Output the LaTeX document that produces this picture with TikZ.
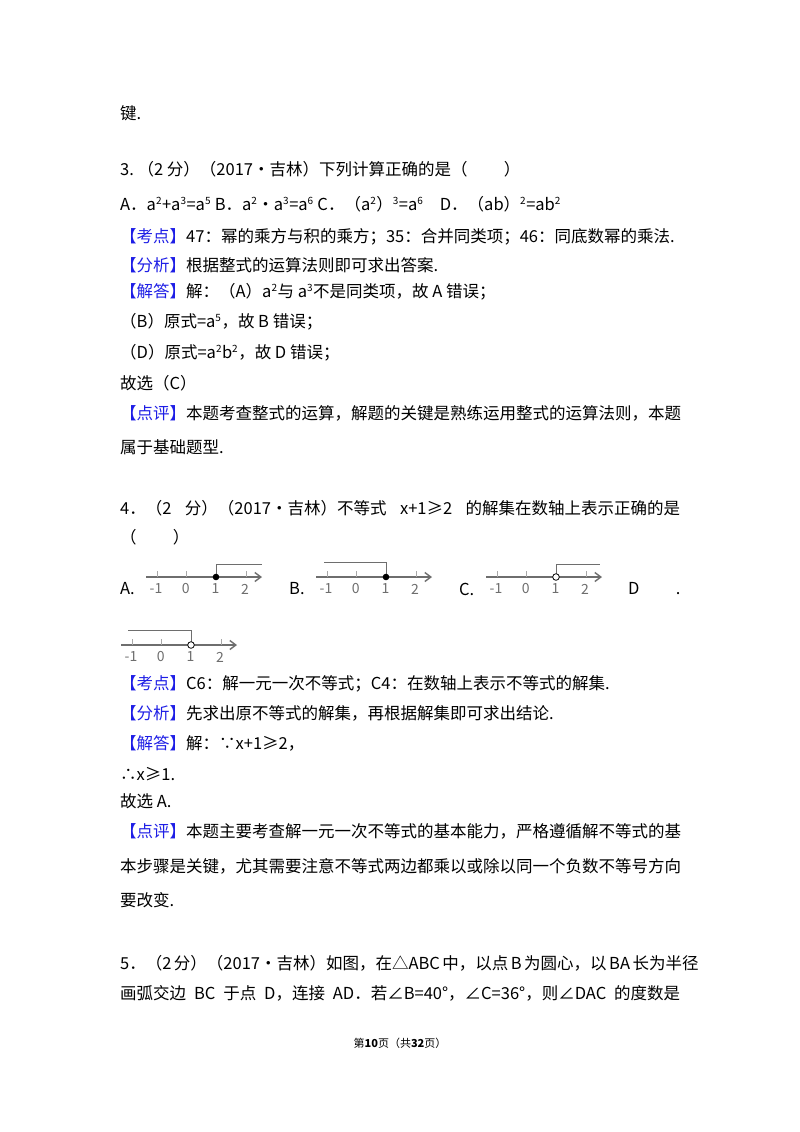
\documentclass[tikz,border=0pt]{standalone}
\usepackage{fontspec}
\usetikzlibrary{arrows.meta}
\setmainfont{Noto Sans CJK SC}
\XeTeXlinebreaklocale "zh"
\XeTeXlinebreakskip=0pt plus 3pt
\definecolor{kblue}{RGB}{30,30,230}
\definecolor{nlgray}{RGB}{110,110,110}
\newcommand{\spx}[1]{\textsuperscript{\fontsize{10}{10}\selectfont #1}}
\newcommand{\kb}[1]{{\color{kblue}【#1】}}
\newcommand{\jl}[1]{\hbox to 560pt{#1}}
\begin{document}
\begin{tikzpicture}[x=1pt,y=-1pt,
  t/.style={anchor=west,inner sep=0pt,font=\fontsize{16.5}{19}\selectfont},
  nl/.style={font=\fontsize{14}{16}\selectfont,inner sep=0pt,text=nlgray},
  ax/.style={nlgray,line width=1.4pt,-{Straight Barb[length=6pt,width=9pt]}},
  br/.style={nlgray,line width=1pt}]
\useasboundingbox[fill=white] (0,0) rectangle (800,1132);
\node[t] (l0) at (120,113) {键.};
\node[t] (l1) at (120,169) {3.\ （2 分）（2017•吉林）下列计算正确的是（\hspace{2.2em}）};
\node[t] (l2) at (120,204) {A．a\spx{2}+a\spx{3}=a\spx{5} B．a\spx{2}•a\spx{3}=a\spx{6} C．（a\spx{2}）\spx{3}=a\spx{6}\quad D．（ab）\spx{2}=ab\spx{2}};
\node[t] (l3) at (120,237) {\kb{考点}47：幂的乘方与积的乘方；35：合并同类项；46：同底数幂的乘法.};
\node[t] (l4) at (120,265) {\kb{分析}根据整式的运算法则即可求出答案.};
\node[t] (l5) at (120,292) {\kb{解答}解：（A）a\spx{2}与 a\spx{3}不是同类项，故 A 错误；};
\node[t] (l6) at (120,322) {（B）原式=a\spx{5}，故 B 错误；};
\node[t] (l7) at (120,353) {（D）原式=a\spx{2}b\spx{2}，故 D 错误；};
\node[t] (l8) at (120,383) {故选（C）};
\node[t] (l9) at (120,413) {\jl{\kb{点评}本题考查整式的运算，解题的关键是熟练运用整式的运算法则，本题}};
\node[t] (l10) at (120,447) {属于基础题型.};
\node[t] (l11) at (120,508) {\jl{4．（2 分）（2017•吉林）不等式 x+1≥2 的解集在数轴上表示正确的是}};
\node[t] (l12) at (120,537) {（\hspace{2.2em}）};
% number lines
\node[t] (la) at (120,589) {A.};
\node[t] (lb) at (289,589) {B.};
\node[t] (lc) at (459,589) {C.};
\node[t] (ld) at (628,589) {D\hspace{2.2em}.};
\foreach \nm/\ox/\oy in {na/157/577, nb/327/577, nc/497/577, nd/132/645}{
  \coordinate (\nm s) at (\ox-11,\oy);
  \coordinate (\nm e) at (\ox+105,\oy);
  \draw[ax] (\nm s) -- (\nm e);
  \foreach \k/\lab in {0/-1,1/0,2/1,3/2}{
    \draw[nlgray!60,line width=0.8pt] (\ox+29.7*\k,\oy) -- (\ox+29.7*\k,\oy-6);
    \node[nl] at (\ox+29.7*\k-1,\oy+12) {\lab};
  }
}
% A: closed, right
\coordinate (pa) at (216,577); \coordinate (pat) at (216,564); \coordinate (pae) at (262,564);
\draw[br] (pa) -- (pat) -- (pae);
\fill[black] (pa) circle (3.3pt);
% B: closed, left
\coordinate (pb) at (386,577); \coordinate (pbt) at (386,562); \coordinate (pbe) at (324,562);
\draw[br] (pb) -- (pbt) -- (pbe);
\fill[black] (pb) circle (3.3pt);
% C: open, right
\coordinate (pc) at (556,577); \coordinate (pct) at (556,564); \coordinate (pce) at (600,564);
\draw[br] (pc) -- (pct) -- (pce);
\filldraw[fill=white,draw=black,line width=0.8pt] (pc) circle (3.3pt);
% D: open, left
\coordinate (pd) at (191,645); \coordinate (pdt) at (191,630); \coordinate (pde) at (128,630);
\draw[br] (pd) -- (pdt) -- (pde);
\filldraw[fill=white,draw=black,line width=0.8pt] (pd) circle (3.3pt);
\node[t] (l13) at (120,684) {\kb{考点}C6：解一元一次不等式；C4：在数轴上表示不等式的解集.};
\node[t] (l14) at (120,713) {\kb{分析}先求出原不等式的解集，再根据解集即可求出结论.};
\node[t] (l15) at (120,743) {\kb{解答}解：∵x+1≥2，};
\node[t] (l16) at (120,774) {∴x≥1.};
\node[t] (l17) at (120,801) {故选 A.};
\node[t] (l18) at (120,831) {\jl{\kb{点评}本题主要考查解一元一次不等式的基本能力，严格遵循解不等式的基}};
\node[t] (l19) at (120,866) {\jl{本步骤是关键，尤其需要注意不等式两边都乘以或除以同一个负数不等号方向}};
\node[t] (l20) at (120,900) {要改变.};
\node[t] (l21) at (120,963) {\jl{5．（2 分）（2017•吉林）如图，在△ABC 中，以点 B 为圆心，以 BA 长为半径}};
\node[t] (l22) at (120,993) {\jl{画弧交边 BC 于点 D，连接 AD．若∠B=40°，∠C=36°，则∠DAC 的度数是}};
\node[inner sep=0pt,font=\fontsize{11}{13}\selectfont] (ft) at (400,1043) {第\textbf{10}页（共\textbf{32}页）};
\end{tikzpicture}
\end{document}
